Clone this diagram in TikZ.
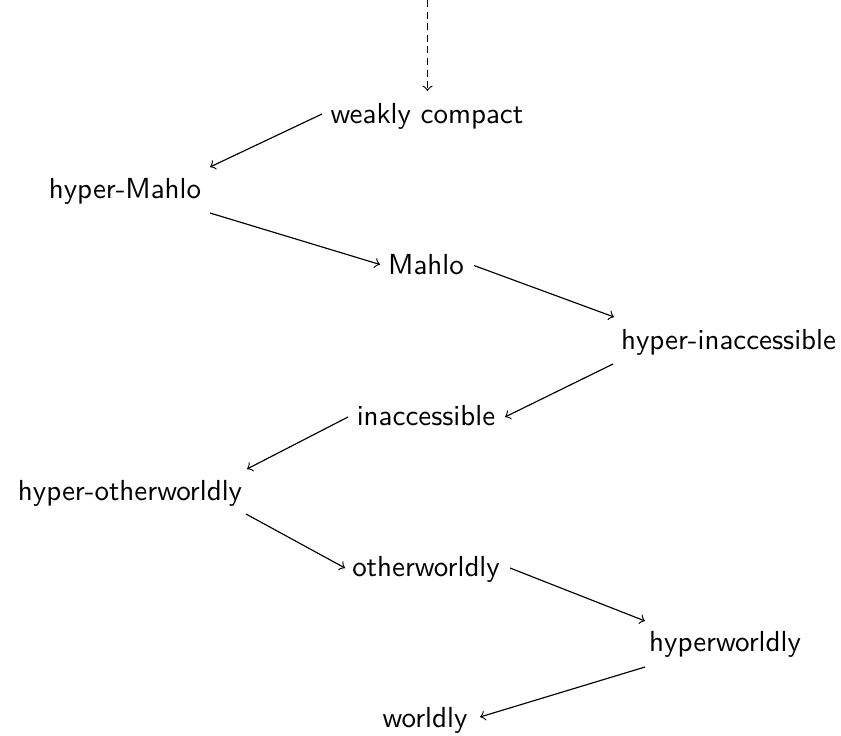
\documentclass[tikz,border=0pt]{standalone}
\usetikzlibrary{calc}
\begin{document}
\begin{tikzpicture}[x=0.345pt,y=-0.345pt,
  lbl/.style={anchor=base,inner sep=0pt,font=\sffamily},
  arr/.style={->,line width=0.4pt}]
\useasboundingbox (0,0) rectangle (841,735);
\node[lbl] (wc) at (427,123) {weakly compact};
\node[lbl] (hm) at (125,198.5) {hyper-Mahlo};
\node[lbl] (M) at (426,274.5) {Mahlo};
\node[lbl] (hi) at (728.5,349.5) {hyper-inaccessible};
\node[lbl] (i) at (426,425) {inaccessible};
\node[lbl] (ho) at (130,500.5) {hyper-otherworldly};
\node[lbl] (o) at (426,576) {otherworldly};
\node[lbl] (hw) at (725,651.5) {hyperworldly};
\node[lbl] (w) at (425,727) {worldly};
\coordinate (top) at (427.5,0);
\draw[arr,dash pattern=on 2.4pt off 1.6pt] (top) -- ($(wc.base)+(0.5,-32)$);
\draw[arr] ($(wc.base)+(-105,-9)$) -- ($(hm.base)+(85,-31.5)$);
\draw[arr] ($(hm.base)+(85,14.5)$) -- ($(M.base)+(-46,-10)$);
\draw[arr] ($(M.base)+(48,-9)$) -- ($(hi.base)+(-114.5,-32.5)$);
\draw[arr] ($(hi.base)+(-115.5,14.5)$) -- ($(i.base)+(79,-8)$);
\draw[arr] ($(i.base)+(-78,-8)$) -- ($(ho.base)+(117,-31.5)$);
\draw[arr] ($(ho.base)+(116,13.5)$) -- ($(o.base)+(-81,-8)$);
\draw[arr] ($(o.base)+(84,-8)$) -- ($(hw.base)+(-80,-30.5)$);
\draw[arr] ($(hw.base)+(-80,15.5)$) -- ($(w.base)+(55,-10)$);
\end{tikzpicture}
\end{document}
